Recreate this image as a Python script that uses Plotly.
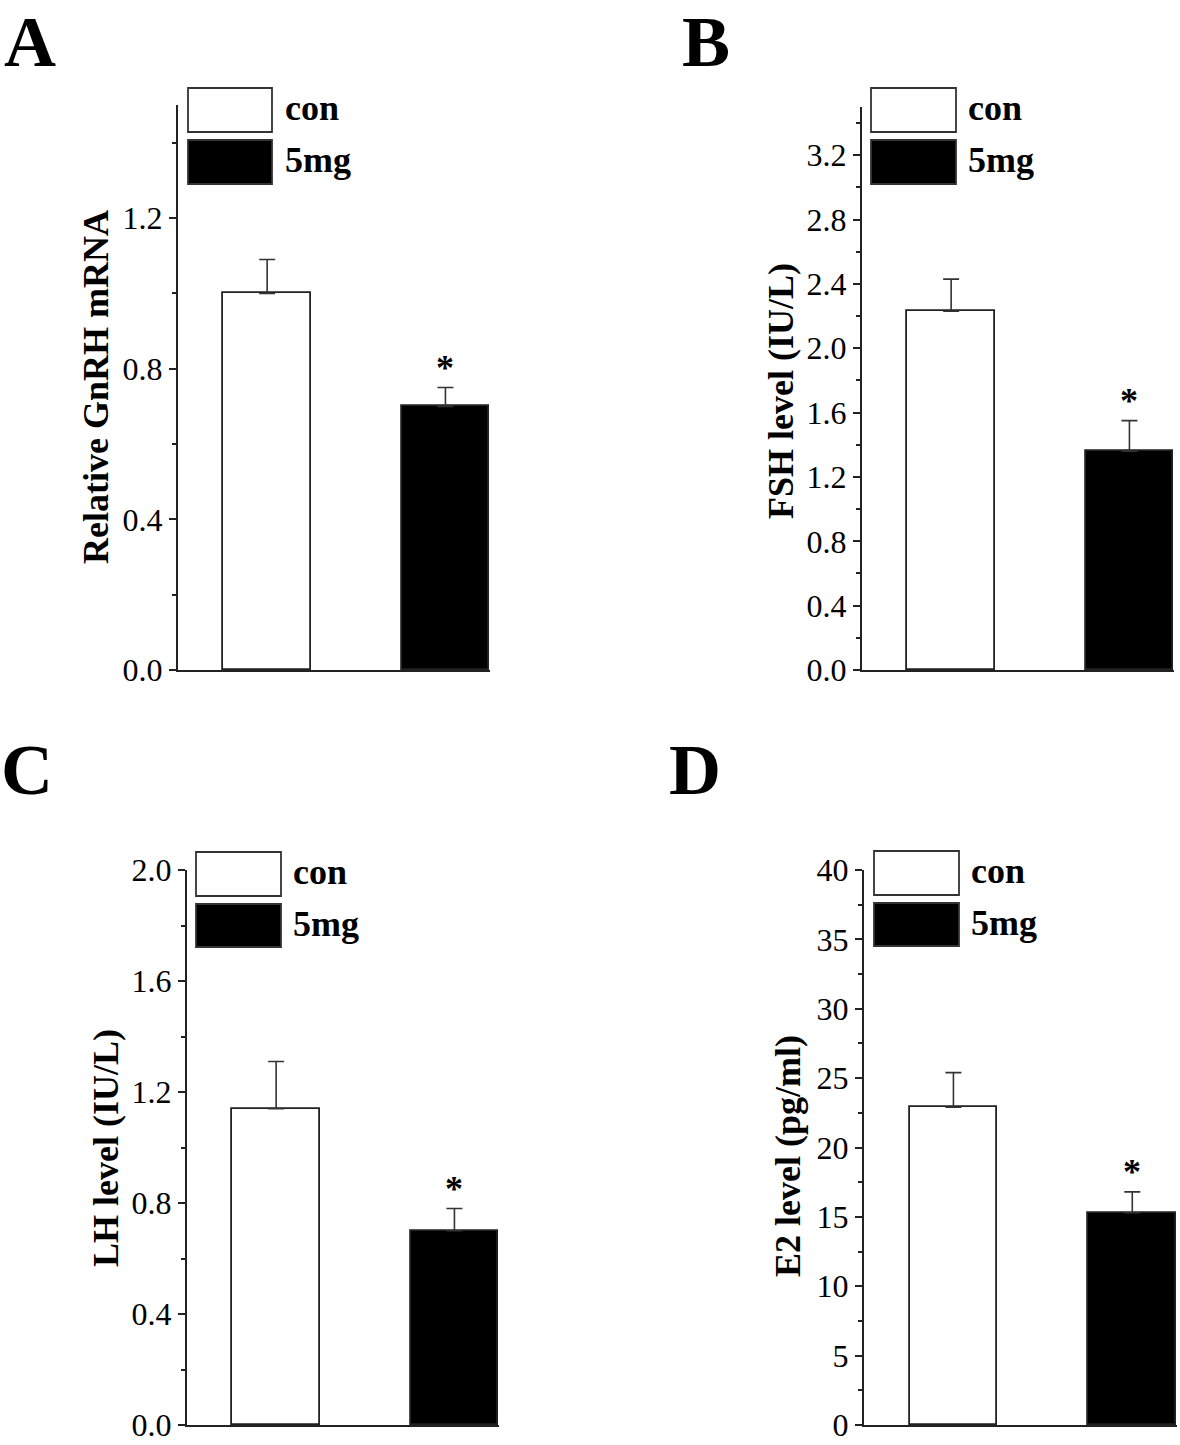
import plotly.graph_objects as go

# ---------------- data ----------------
groups = ["con", "5mg"]
panel_letters = ["A", "B", "C", "D"]
y_titles = ["Relative GnRH mRNA", "FSH level (IU/L)", "LH level (IU/L)", "E2 level (pg/ml)"]

gnrh_mean = [1.00, 0.70]
gnrh_err = [0.09, 0.05]
fsh_mean = [2.23, 1.36]
fsh_err = [0.20, 0.19]
lh_mean = [1.14, 0.70]
lh_err = [0.17, 0.08]
e2_mean = [22.9, 15.3]
e2_err = [2.5, 1.5]

significance = ["", "*"]

means = [gnrh_mean, fsh_mean, lh_mean, e2_mean]
errs = [gnrh_err, fsh_err, lh_err, e2_err]

# ---------------- layout helpers ----------------
W, H = 1180, 1445
FONT = "Liberation Serif"

def xd(a, b):
    return [a / W, b / W]

def yd(top, bottom):
    return [1 - bottom / H, 1 - top / H]

panels = [
    dict(x=(178, 490), y=(105, 670), rng=[0, 1.5], dtick=0.4, minor=0.2, fmt=".1f",
         letter=(30, 0), title=(96, 387), leg_x=(188, 272), leg_y=[(88, 132), (140, 184)], leg_tx=283),
    dict(x=(862, 1174), y=(107, 670), rng=[0, 3.5], dtick=0.4, minor=0.2, fmt=".1f",
         letter=(706, 0), title=(781, 391), leg_x=(871, 956), leg_y=[(88, 132), (140, 184)], leg_tx=966),
    dict(x=(187, 499), y=(870, 1425), rng=[0, 2.0], dtick=0.4, minor=0.2, fmt=".1f",
         letter=(27, 728), title=(106, 1148), leg_x=(196, 281), leg_y=[(852, 896), (904, 947)], leg_tx=291),
    dict(x=(864, 1177), y=(870, 1425), rng=[0, 40], dtick=5, minor=2.5, fmt="d",
         letter=(695, 728), title=(788, 1156), leg_x=(874, 959), leg_y=[(851, 895), (903, 946)], leg_tx=969),
]

fills = ["white", "black"]
xpos = [1, 2]

fig = go.Figure()
annotations = []
shapes = []

for i, p in enumerate(panels):
    n = "" if i == 0 else str(i + 1)
    xa, ya = "x" + n, "y" + n
    fig.add_trace(go.Bar(
        x=xpos, y=means[i], width=0.49,
        marker=dict(color=fills, line=dict(color="#222", width=1.8)),
        error_y=dict(type="data", array=errs[i], arrayminus=[0, 0], symmetric=False,
                     color="#333", thickness=1.6, width=8),
        xaxis=xa, yaxis=ya, showlegend=False,
    ))
    fig.layout["xaxis" + n] = dict(
        domain=xd(*p["x"]), range=[0.5, 2.25], anchor=ya, automargin=False,
        showline=True, linecolor="#222", linewidth=2, showticklabels=False,
        ticks="", showgrid=False, zeroline=False, fixedrange=True,
    )
    fig.layout["yaxis" + n] = dict(
        domain=yd(*p["y"]), range=p["rng"], anchor=xa, automargin=False,
        showline=True, linecolor="#222", linewidth=2, showgrid=False, zeroline=False,
        ticks="outside", ticklen=7, tickwidth=1.5, tickcolor="#222",
        dtick=p["dtick"], tick0=0, tickformat=p["fmt"], ticklabeloverflow="allow",
        tickfont=dict(family=FONT, size=32, color="black"),
        minor=dict(ticks="outside", ticklen=4, tickwidth=1.5, tickcolor="#222", dtick=p["minor"]),
    )
    # panel letter
    annotations.append(dict(text=f"<b>{panel_letters[i]}</b>", x=p["letter"][0] / W, y=1 - p["letter"][1] / H,
                            xref="paper", yref="paper", showarrow=False,
                            font=dict(family=FONT, size=72, color="black"),
                            xanchor="center", yanchor="top"))
    # y title
    annotations.append(dict(text=f"<b>{y_titles[i]}</b>", x=p["title"][0] / W, y=1 - p["title"][1] / H,
                            xref="paper", yref="paper", showarrow=False, textangle=-90,
                            font=dict(family=FONT, size=36, color="black"),
                            xanchor="center", yanchor="middle"))
    # legend
    for g, (t, b) in enumerate(p["leg_y"]):
        shapes.append(dict(type="rect", xref="paper", yref="paper",
                           x0=p["leg_x"][0] / W, x1=p["leg_x"][1] / W,
                           y0=1 - b / H, y1=1 - t / H,
                           fillcolor=fills[g], line=dict(color="#333", width=1.8)))
        annotations.append(dict(text=f"<b>{groups[g]}</b>", x=p["leg_tx"] / W, y=1 - ((t + b) / 2 - 2) / H,
                                xref="paper", yref="paper", showarrow=False,
                                font=dict(family=FONT, size=36, color="black"),
                                xanchor="left", yanchor="middle"))
    # significance stars
    for g in range(len(groups)):
        if significance[g]:
            annotations.append(dict(text=f"<b>{significance[g]}</b>", x=xpos[g], y=means[i][g] + errs[i][g],
                                    xref=xa, yref=ya, showarrow=False, yanchor="bottom",
                                    yshift=-2,
                                    font=dict(family=FONT, size=36, color="black")))

fig.update_layout(
    width=W, height=H, margin=dict(l=0, r=0, t=0, b=0, autoexpand=False),
    paper_bgcolor="white", plot_bgcolor="white",
    annotations=annotations, shapes=shapes, bargap=0,
)

fig.write_html("out.html", config={"displayModeBar": False},
               post_script="document.body.style.margin='0';")
